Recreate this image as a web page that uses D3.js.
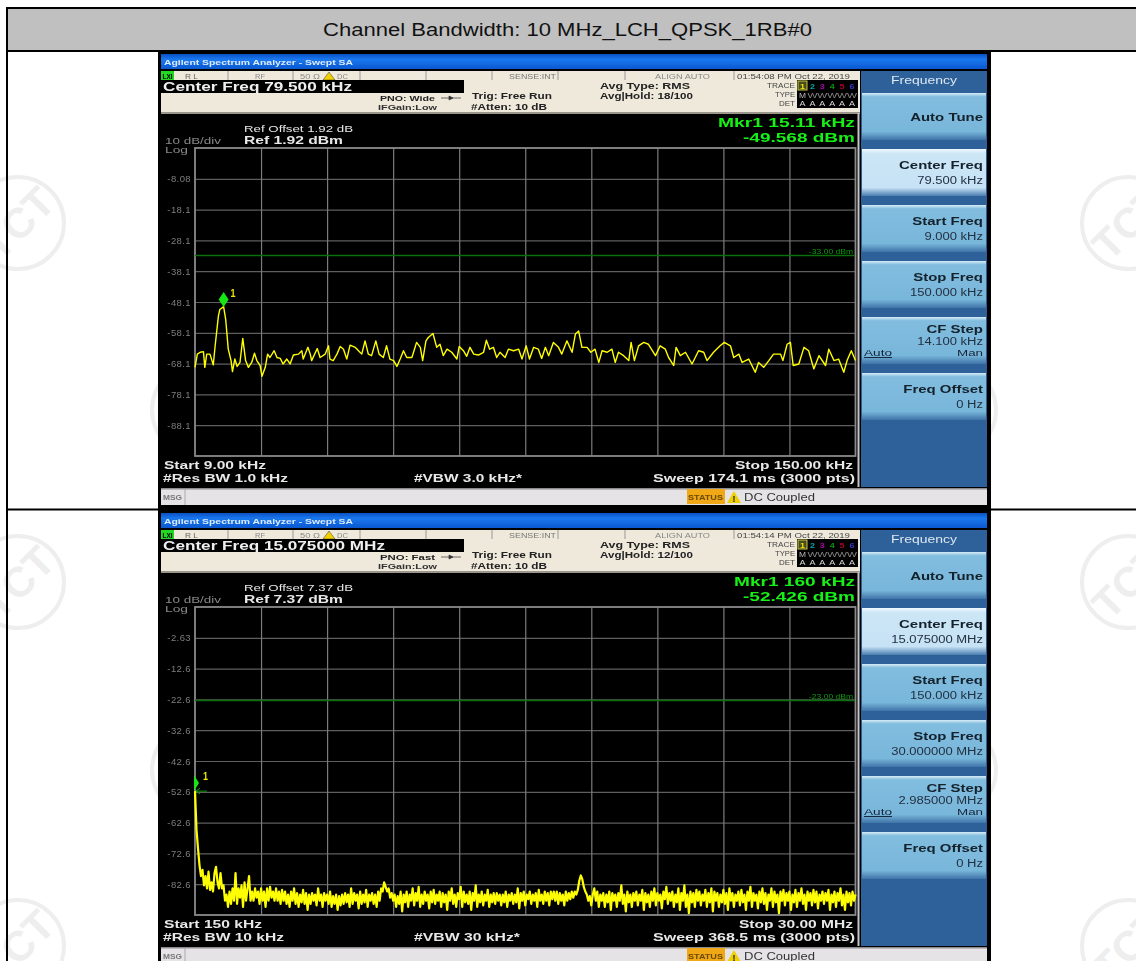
<!DOCTYPE html>
<html>
<head>
<meta charset="utf-8">
<style>
html, body { margin: 0; padding: 0; background: #fff; overflow: hidden; }
text { font-family: "Liberation Sans", Arial, sans-serif; }
</style>
<script src="https://cdn.jsdelivr.net/npm/d3@7"></script>
</head>
<body>
<div id="chart"></div>
<script>
const title = "Channel Bandwidth: 10 MHz_LCH_QPSK_1RB#0";

// first sweep (kHz / dBm)
const trace1Freq = [9.0,9.5,10.1,10.8,11.1,11.5,12.2,12.9,13.3,14.0,14.3,15.11,15.55,16.1,16.7,17.0,17.5,18.0,18.6,19.2,19.8,20.4,21.1,21.7,22.2,22.9,23.3,24.0,24.5,25.0,25.9,26.5,27.2,27.8,28.6,29.3,30.0,31.1,31.8,32.1,33.1,33.6,33.9,35.1,35.7,36.8,37.5,37.8,38.5,39.3,40.0,40.7,41.4,42.1,43.2,43.9,44.6,45.3,46.0,46.7,47.6,48.3,49.2,49.9,50.6,51.4,52.1,52.8,53.5,54.2,55.3,56.3,57.1,57.6,58.3,58.8,59.8,60.6,61.3,62.0,62.8,63.8,64.9,65.4,66.3,67.0,67.7,68.5,69.5,70.6,71.2,71.9,72.7,73.4,74.1,75.2,75.9,77.0,78.1,78.8,79.7,80.4,81.3,82.3,83.0,83.8,84.5,85.5,86.6,87.3,88.4,89.5,90.2,90.9,91.6,92.7,93.5,94.4,95.2,95.9,97.0,98.0,98.7,99.4,100.5,101.6,102.1,102.8,103.7,104.8,105.8,107.3,108.3,109.4,110.1,111.2,111.7,112.6,113.7,115.1,116.5,117.6,118.3,119.7,121.1,122.0,123.3,124.0,125.1,125.8,127.2,128.6,129.3,130.4,131.5,132.5,134.0,134.5,135.4,136.1,136.7,137.9,139.0,140.0,141.1,142.2,143.6,144.3,145.4,146.4,147.5,148.2,149.1,150.0];
const trace1Db = [-69.3,-65.0,-64.4,-64.2,-69.3,-65.0,-65.0,-68.5,-62.3,-52.6,-50.5,-49.568,-53.7,-63.4,-67.1,-70.7,-66.6,-69.0,-67.7,-59.9,-67.1,-69.3,-67.7,-64.7,-67.1,-68.7,-72.2,-69.3,-65.0,-66.1,-63.9,-66.1,-66.4,-68.2,-66.6,-68.2,-65.3,-65.0,-63.9,-66.6,-62.8,-65.0,-67.1,-63.2,-66.1,-65.0,-62.3,-66.6,-67.1,-65.0,-62.5,-63.4,-66.6,-62.1,-62.8,-63.9,-65.0,-60.7,-65.0,-65.5,-60.7,-65.0,-66.1,-62.3,-66.6,-67.1,-69.0,-66.6,-63.9,-66.1,-66.1,-61.2,-62.8,-67.1,-60.7,-59.6,-58.3,-62.8,-61.8,-65.5,-63.4,-64.4,-66.6,-62.5,-63.9,-65.7,-62.8,-65.0,-65.3,-64.4,-60.5,-63.4,-62.8,-66.1,-64.4,-66.1,-63.4,-63.9,-63.4,-66.6,-62.3,-66.6,-62.8,-63.4,-66.4,-62.8,-65.5,-61.2,-62.8,-65.0,-60.7,-64.4,-58.5,-57.5,-62.8,-62.8,-64.4,-63.4,-67.7,-63.9,-64.4,-63.4,-67.7,-64.4,-65.5,-67.1,-61.2,-67.1,-62.3,-61.2,-61.8,-65.5,-62.3,-63.4,-66.1,-68.7,-62.8,-65.5,-64.4,-68.2,-63.9,-64.4,-67.1,-64.4,-62.3,-61.2,-62.3,-66.1,-65.0,-67.7,-66.6,-70.9,-67.7,-69.3,-67.1,-65.0,-65.0,-67.1,-61.8,-61.2,-68.7,-68.2,-62.8,-63.9,-69.8,-65.5,-68.7,-63.4,-67.1,-66.6,-70.9,-67.1,-63.9,-67.1];

// second sweep, evenly spaced points across the span (dBm)
const trace2Db = [
-52.4,-65,-71,-76.5,-80,-78,-83,-80,-84,-78.5,-84.5,-82,-85,-79,-77,-82,-84,-79,-84,-83,
-88,-86,-90,-85,-89,-84,-88,-79,-89,-84,-87,-83,-90,-82,-88,-84,-80,-88,-85,-88,
-84,-87,-85,-89,-84,-88,-85,-90,-84,-88,-83.5,-87,-85,-88,-84,-88,-85,-89,-84.5,-88,
-85,-89,-86,-90,-85,-88,-84,-89,-85.5,-90,-86,-88.5,-84.5,-89,-85.5,-91,-86,-89,-85.5,-88,
-86,-89.5,-84,-88,-86,-90,-85.5,-88,-86,-89,-85,-90,-86.5,-89,-86,-91,-86.5,-89.5,-86,-89,
-85.5,-88.5,-86,-90,-84,-89,-85.5,-88,-86,-90.5,-85,-89,-86,-88.5,-84.5,-90,-86,-88,-85.5,-89,
-86,-90,-85,-88,-84,-85,-82,-83.5,-85,-84,-87,-85.5,-88,-86,-90,-86.5,-89,-85,-91.5,-86,
-88.5,-85,-90,-86,-88,-84,-89.5,-85.5,-88,-83.5,-90,-86,-89,-85,-88,-86,-90.5,-85,-88.5,-84.5,
-89,-86,-88,-85,-90,-85.5,-88.5,-86,-91,-85,-88,-84,-89,-86,-90,-85.5,-87.5,-83.5,-90,-85,
-88.5,-86,-89,-85,-91,-85.5,-88,-83,-90,-86,-88.5,-85,-89.5,-86,-88,-84.5,-90,-86,-88.5,-85.5,
-89,-85.5,-88,-86,-89.5,-86,-88.5,-85,-90,-86,-88,-85.5,-89,-86,-88.5,-84,-90.5,-85.5,-88,-85,
-89.5,-86,-87.5,-85,-89,-86,-88,-85.5,-90,-84.5,-88,-86,-89,-85,-88,-85.5,-89.5,-85,-87.5,-85,
-88,-85,-89,-85.5,-88,-86,-89.5,-85,-88,-85.5,-87.5,-85,-87,-85,-86,-84.5,-81.5,-79.8,-81,-83.5,
-85,-86,-88,-86.5,-89.5,-86,-84,-88,-85,-90,-86,-88,-85.5,-90,-86,-88.5,-85,-91,-85.5,-88,
-86,-90,-85.5,-88,-83,-89,-86,-91.5,-85,-88.5,-86,-90,-85.5,-88,-85,-89.5,-86,-88,-84.5,-91,
-85.5,-88.5,-86,-90,-85,-88,-84,-89.5,-85.5,-88,-86,-90.5,-85,-87.5,-83.5,-89,-85.5,-88,-85,-90,
-86,-88.5,-84,-91,-85.5,-88,-83,-90,-86,-92,-85,-88.5,-85.5,-90,-84.5,-88,-85,-89.5,-86,-88,
-84.5,-90,-85.5,-88.5,-84,-91.5,-85,-88,-85.5,-90,-86,-88.5,-84.5,-89,-85.5,-91,-84,-88,-85.5,-90,
-86,-88,-85,-89.5,-84.5,-88.5,-86,-91,-85,-88,-83.5,-90,-85.5,-88,-86,-90.5,-85,-88.5,-84,-89,
-85.5,-91,-86,-88,-84,-90,-85,-88.5,-86,-92,-85,-88,-84.5,-89.5,-85.5,-88,-85,-91,-86,-88.5,
-84.5,-90,-85.5,-88,-84,-89,-86,-91,-85,-88,-85.5,-89.5,-84.5,-88.5,-85,-90.5,-86,-88,-85,-89,
-85.5,-88,-84.5,-91,-86,-88.5,-85,-90,-85.5,-88,-84,-89.5,-86,-91,-85,-88.5,-85.5,-89.5,-85,-88,
-86
];

const yTicks1 = [-8.08,-18.08,-28.08,-38.08,-48.08,-58.08,-68.08,-78.08,-88.08];
const yLabels1 = ["-8.08","-18.1","-28.1","-38.1","-48.1","-58.1","-68.1","-78.1","-88.1"];
const yTicks2 = [-2.63,-12.63,-22.63,-32.63,-42.63,-52.63,-62.63,-72.63,-82.63];
const yLabels2 = ["-2.63","-12.6","-22.6","-32.6","-42.6","-52.6","-62.6","-72.6","-82.6"];
const traceTabs = ["1","2","3","4","5","6"];
const traceTabColors = ["#e8e800","#00a8a8","#a800a8","#109010","#a80030","#3838c8"];
const watermarks = [[18,223],[1128,223],[18,582],[1128,582],[18,946],[1128,946],[198,410],[950,410],[198,770],[950,770]];

const w = 1136, h = 961;
const svg = d3.select("#chart").append("svg").attr("width", w).attr("height", h)
    .style("display", "block");

const defs = svg.append("defs");
defs.append("filter").attr("id", "soft").attr("x", "-2%").attr("y", "-2%").attr("width", "104%").attr("height", "104%")
    .append("feGaussianBlur").attr("stdDeviation", 0.42);

function grad(id, stops) {
    const g = defs.append("linearGradient").attr("id", id).attr("x1", 0).attr("x2", 0).attr("y1", 0).attr("y2", 1);
    stops.forEach(s => g.append("stop").attr("offset", s[0]).attr("stop-color", s[1]));
}
grad("barBlue", [[0, "#0a4fc4"], [0.35, "#1a78ee"], [1, "#0b58d0"]]);
grad("keyBlue", [[0, "#d6ebf6"], [0.08, "#82bddf"], [0.82, "#78b6da"], [1, "#3f74a8"]]);
grad("keyLight", [[0, "#f0f8fd"], [0.1, "#cce6f6"], [0.82, "#c6e2f4"], [1, "#4a7db0"]]);

// stretched text, the analyzer font is much wider than Liberation
function txt(g, str, x, y, size, o) {
    o = o || {};
    const t = g.append("text").attr("x", x).attr("y", y)
        .attr("font-size", size)
        .attr("font-weight", o.bold ? "bold" : "normal")
        .attr("fill", o.fill || "#e8e8e8")
        .attr("text-anchor", o.anchor || "start")
        .text(str);
    const wid = o.w || t.node().getComputedTextLength() * (o.stretch || 1.2);
    t.attr("textLength", wid).attr("lengthAdjust", "spacingAndGlyphs");
    return t;
}

function drawWatermark(c) {
    const g = svg.append("g").attr("transform", `translate(${c[0]},${c[1]})`);
    g.append("circle").attr("r", 46).attr("fill", "none").attr("stroke", "#eeeeee").attr("stroke-width", 4);
    g.append("text").attr("transform", "rotate(-45)").attr("text-anchor", "middle").attr("y", 15)
        .attr("font-size", 42).attr("font-weight", "bold").attr("fill", "#eeeeee")
        .attr("stroke", "#fff").attr("stroke-width", 2).attr("paint-order", "stroke")
        .text("TCT");
}

function drawFrame() {
    svg.append("rect").attr("x", 7).attr("y", 8).attr("width", w).attr("height", 43)
        .attr("fill", "#c0c0c0").attr("stroke", "#000").attr("stroke-width", 2);
    svg.append("line").attr("x1", 7).attr("x2", 7).attr("y1", 7).attr("y2", h).attr("stroke", "#000").attr("stroke-width", 2);
    svg.append("line").attr("x1", 7).attr("x2", w).attr("y1", 509.5).attr("y2", 509.5).attr("stroke", "#000").attr("stroke-width", 2);
    svg.append("text").attr("x", 323).attr("y", 36).attr("font-size", 18.7).attr("fill", "#111")
        .attr("textLength", 489).attr("lengthAdjust", "spacingAndGlyphs").text(title);
}

function drawAnalyzer(c) {
    const g = svg.append("g").attr("transform", `translate(0,${c.top})`);
    // black surround stays sharp, the rest of the screen shot is blurred a little
    g.append("rect").attr("x", 158).attr("y", 0).attr("width", 833).attr("height", 458).attr("fill", "#000");
    const s = g.append("g").attr("filter", "url(#soft)");

    s.append("rect").attr("x", 161).attr("y", 3).attr("width", 826).attr("height", 15).attr("fill", "url(#barBlue)");
    txt(s, "Agilent Spectrum Analyzer - Swept SA", 164, 13.5, 8, { bold: true, fill: "#dcecff", w: 189 });

    // status row
    s.append("rect").attr("x", 161).attr("y", 20).attr("width", 699).attr("height", 42).attr("fill", "#efe9dc");
    s.append("rect").attr("x", 161).attr("y", 61).attr("width", 699).attr("height", 2).attr("fill", "#9a968c");
    s.append("rect").attr("x", 161).attr("y", 20).attr("width", 13).attr("height", 9).attr("fill", "#20d820");
    txt(s, "LXI", 162.5, 27.5, 7.5, { bold: true, fill: "#000", w: 10 });
    txt(s, "R L", 185, 27.5, 7, { fill: "#666", w: 13 });
    txt(s, "RF", 255, 27.5, 7, { fill: "#888", w: 10 });
    txt(s, "50 Ω", 300, 27.5, 7, { fill: "#888", w: 20 });
    s.append("path").attr("d", "M329,21 L335,29 L323,29 Z").attr("fill", "#f0d000").attr("stroke", "#333").attr("stroke-width", 0.5);
    txt(s, "DC", 337, 27.5, 7, { fill: "#888", w: 11 });
    txt(s, "SENSE:INT", 509, 27.5, 7, { fill: "#777", w: 47 });
    txt(s, "ALIGN AUTO", 655, 27.5, 7, { fill: "#888", w: 55 });
    txt(s, c.time, 737, 27.5, 7.5, { fill: "#444", w: 113 });
    [228, 293, 360, 426, 492, 558, 625, 734].forEach(x => {
        s.append("line").attr("x1", x).attr("x2", x).attr("y1", 20).attr("y2", 29).attr("stroke", "#999");
    });

    s.append("rect").attr("x", 161).attr("y", 29).attr("width", 303).attr("height", 13).attr("fill", "#000");
    txt(s, c.center, 163, 40, 12, { bold: true, fill: "#eee", w: c.centerW });
    txt(s, c.pno, 380, 50, 8, { bold: true, fill: "#222", w: 55 });
    txt(s, "IFGain:Low", 378, 59, 8, { bold: true, fill: "#333", w: 59 });
    s.append("path").attr("d", "M441,47 H461 M449,45 L453,47 L449,49 Z").attr("stroke", "#333").attr("fill", "#333").attr("stroke-width", 0.7);
    txt(s, "Trig: Free Run", 472, 48, 8.5, { bold: true, fill: "#222", w: 80 });
    txt(s, "#Atten: 10 dB", 471, 59, 8.5, { bold: true, fill: "#222", w: 76 });
    txt(s, "Avg Type: RMS", 600, 37.5, 8.5, { bold: true, fill: "#222", w: 90 });
    txt(s, c.hold, 600, 47.5, 8.5, { bold: true, fill: "#222", w: 93 });

    // trace table
    s.append("rect").attr("x", 797).attr("y", 29).attr("width", 61).attr("height", 28).attr("fill", "#000");
    txt(s, "TRACE", 767, 37, 7, { fill: "#444", w: 28 });
    txt(s, "TYPE", 775, 46, 7, { fill: "#444", w: 20 });
    txt(s, "DET", 779, 55, 7, { fill: "#444", w: 16 });
    s.append("rect").attr("x", 798).attr("y", 30).attr("width", 9).attr("height", 9).attr("fill", "#4a4a20").attr("stroke", "#c8c840");
    traceTabs.forEach((d, i) => {
        const x = 802.5 + i * 9.9;
        txt(s, d, x, 37.5, 8, { bold: true, fill: traceTabColors[i], anchor: "middle", w: 5 });
        txt(s, "A", x, 55, 8, { fill: "#ddd", anchor: "middle", w: 6 });
        txt(s, i === 0 ? "M" : "W", x, 46.5, 8, { fill: i === 0 ? "#bbb" : "#888", anchor: "middle", w: i === 0 ? 7 : 10 });
    });

    // readouts over the plot
    txt(s, c.refOffset, 244, 81, 9.5, { w: 109 });
    txt(s, c.ref, 244, 93, 11, { bold: true, w: 99 });
    txt(s, "10 dB/div", 165, 92.5, 8.5, { fill: "#888", w: 56 });
    txt(s, "Log", 165, 102, 8.5, { fill: "#888", w: 23 });
    txt(s, c.mkr, 855, 76, 13.5, { bold: true, fill: "#16f016", anchor: "end", w: c.mkrW });
    txt(s, c.mkrVal, 855, 91, 13.5, { bold: true, fill: "#16f016", anchor: "end", w: 112 });

    // plot
    const x = d3.scaleLinear().domain([c.start, c.stop]).range([195, 855.5]);
    const y = d3.scaleLinear().domain([c.refDb, c.refDb - 100]).range([97, 405]);
    const xGrid = d3.range(1, 10).map(i => c.start + i * (c.stop - c.start) / 10);

    const ya = s.append("g").attr("transform", "translate(195,0)")
        .call(d3.axisLeft(y).tickValues(c.yTicks).tickSize(-660).tickPadding(4)
            .tickFormat((d, i) => c.yLabels[i]));
    ya.select(".domain").remove();
    ya.selectAll("line").attr("stroke", "#5e5e5e").attr("stroke-width", 1.2);
    ya.selectAll("text").attr("fill", "#7e7e7e").attr("font-size", 9.5).attr("letter-spacing", 0.4)
        .attr("font-family", "'Liberation Sans', Arial, sans-serif");

    const xa = s.append("g").attr("transform", "translate(0,405)")
        .call(d3.axisBottom(x).tickValues(xGrid).tickSize(-308).tickFormat(""));
    xa.select(".domain").remove();
    xa.selectAll("line").attr("stroke", "#7c7c7c").attr("stroke-width", 1.2);

    s.append("rect").attr("x", 195).attr("y", 97).attr("width", 660.5).attr("height", 308)
        .attr("fill", "none").attr("stroke", "#8a8a8a").attr("stroke-width", 1.8);

    s.append("line").attr("x1", 195).attr("x2", 855).attr("y1", y(c.limit)).attr("y2", y(c.limit))
        .attr("stroke", "#0b6e0b").attr("stroke-width", 1.5);
    txt(s, c.limitLabel, 853, y(c.limit) - 2, 6.5, { fill: "#0c9a0c", anchor: "end", w: 44 });

    const line = d3.line().x(d => x(d[0])).y(d => y(d[1]));
    s.append("path").datum(c.trace).attr("d", line).attr("fill", "none")
        .attr("stroke", "#ffff00").attr("stroke-width", c.traceWidth).attr("stroke-linejoin", "round");

    // marker
    const mx = x(c.trace[c.mkrIndex][0]), my = y(c.trace[c.mkrIndex][1]);
    if (c.halfMarker) {
        s.append("path").attr("transform", `translate(${mx - 1},${my})`).attr("d", "M0,0 V-16 L5,-8 Z").attr("fill", "#14e614");
        s.append("path").attr("transform", `translate(${mx},${my})`).attr("d", "M12,0 H1 M5,-3 L1,0 L5,3")
            .attr("fill", "none").attr("stroke", "#0c9a0c").attr("stroke-width", 1);
    } else {
        s.append("path").attr("transform", `translate(${mx},${my - 7})`).attr("d", "M0,-7.5 L5,0 L0,7.5 L-5,0 Z").attr("fill", "#14e614");
    }
    txt(s, "1", mx + (c.halfMarker ? 8 : 7), my + (c.halfMarker ? -11 : -10), 10, { bold: true, fill: "#e8e800", w: 5 });

    // bottom readouts
    txt(s, c.startLabel, 164, 418, 11, { bold: true, w: c.startW });
    txt(s, c.rbw, 163, 431, 11, { bold: true, w: c.rbwW });
    txt(s, c.vbw, 414, 431, 11, { bold: true, w: c.vbwW });
    txt(s, c.stopLabel, 853, 418, 11, { bold: true, anchor: "end", w: c.stopW });
    txt(s, c.sweep, 855, 431, 11, { bold: true, anchor: "end", w: 202 });

    // message bar
    s.append("rect").attr("x", 161).attr("y", 437).attr("width", 826).attr("height", 17).attr("fill", "#e6e3e6");
    s.append("rect").attr("x", 161).attr("y", 437).attr("width", 826).attr("height", 1.5).attr("fill", "#8c8c8c");
    s.append("line").attr("x1", 185).attr("x2", 185).attr("y1", 438).attr("y2", 454).attr("stroke", "#aaa");
    txt(s, "MSG", 163, 449, 7.5, { bold: true, fill: "#777", w: 19 });
    s.append("rect").attr("x", 687).attr("y", 438).attr("width", 38).attr("height", 15).attr("fill", "#f0a818");
    txt(s, "STATUS", 688, 449, 7.5, { bold: true, fill: "#6a4a00", w: 35 });
    s.append("path").attr("d", "M734,440 L741,452 L727,452 Z").attr("fill", "#f0d000");
    txt(s, "!", 732.5, 451, 9, { bold: true, fill: "#222", w: 3 });
    txt(s, "DC Coupled", 744, 450, 10, { fill: "#333", w: 71 });

    // softkeys
    s.append("rect").attr("x", 861).attr("y", 20).attr("width", 126).attr("height", 416).attr("fill", "#2f6199");
    s.append("rect").attr("x", 857.5).attr("y", 62).attr("width", 2).attr("height", 374).attr("fill", "#c4c4c4");
    txt(s, "Frequency", 924, 33, 10.5, { fill: "#dfe9f2", anchor: "middle", w: 66 });
    const keys = s.selectAll("g.key").data(c.keys).enter().append("g").attr("class", "key")
        .attr("transform", (d, i) => `translate(862,${42 + i * 56})`);
    keys.append("rect").attr("width", 124).attr("height", 47)
        .attr("fill", d => d.active ? "url(#keyLight)" : "url(#keyBlue)");
    keys.each(function (d) {
        const k = d3.select(this);
        txt(k, d.name, 121, d.nameY, 11.5, { bold: true, fill: "#12202c", anchor: "end", stretch: 1.3 });
        if (d.val) txt(k, d.val, 121, d.valY, 10, { fill: "#223040", anchor: "end", stretch: 1.3 });
        if (d.auto) {
            txt(k, "Auto", 2, 39, 9.5, { fill: "#16233a", w: 28 }).attr("text-decoration", "underline");
            txt(k, "Man", 121, 39, 9.5, { fill: "#16233a", anchor: "end", w: 26 });
        }
    });
}

function softkeys(center, start, stop, step) {
    return [
        { name: "Auto Tune", nameY: 28 },
        { name: "Center Freq", nameY: 20, val: center, valY: 35, active: true },
        { name: "Start Freq", nameY: 20, val: start, valY: 35 },
        { name: "Stop Freq", nameY: 20, val: stop, valY: 35 },
        { name: "CF Step", nameY: 16, val: step, valY: 28, auto: true },
        { name: "Freq Offset", nameY: 20, val: "0 Hz", valY: 35 }
    ];
}

watermarks.forEach(drawWatermark);
drawFrame();

drawAnalyzer({
    top: 51, time: "01:54:08 PM Oct 22, 2019", center: "Center Freq 79.500 kHz", centerW: 189,
    pno: "PNO: Wide", hold: "Avg|Hold: 18/100", refOffset: "Ref Offset 1.92 dB", ref: "Ref 1.92 dBm",
    mkr: "Mkr1 15.11 kHz", mkrW: 137, mkrVal: "-49.568 dBm",
    start: 9, stop: 150, refDb: 1.92, yTicks: yTicks1, yLabels: yLabels1,
    limit: -33, limitLabel: "-33.00 dBm",
    trace: trace1Freq.map((f, i) => [f, trace1Db[i]]), traceWidth: 1.4, mkrIndex: 11, halfMarker: false,
    startLabel: "Start 9.00 kHz", startW: 102, rbw: "#Res BW 1.0 kHz", rbwW: 125, vbw: "#VBW 3.0 kHz*", vbwW: 108,
    stopLabel: "Stop 150.00 kHz", stopW: 118, sweep: "Sweep  174.1 ms (3000 pts)",
    keys: softkeys("79.500 kHz", "9.000 kHz", "150.000 kHz", "14.100 kHz")
});

drawAnalyzer({
    top: 510, time: "01:54:14 PM Oct 22, 2019", center: "Center Freq 15.075000 MHz", centerW: 222,
    pno: "PNO: Fast", hold: "Avg|Hold: 12/100", refOffset: "Ref Offset 7.37 dB", ref: "Ref 7.37 dBm",
    mkr: "Mkr1 160 kHz", mkrW: 121, mkrVal: "-52.426 dBm",
    start: 0.15, stop: 30, refDb: 7.37, yTicks: yTicks2, yLabels: yLabels2,
    limit: -23, limitLabel: "-23.00 dBm",
    trace: trace2Db.map((v, i) => [0.15 + i * (30 - 0.15) / (trace2Db.length - 1), v]), traceWidth: 2.2, mkrIndex: 0, halfMarker: true,
    startLabel: "Start 150 kHz", startW: 98, rbw: "#Res BW 10 kHz", rbwW: 121, vbw: "#VBW 30 kHz*", vbwW: 106,
    stopLabel: "Stop 30.00 MHz", stopW: 114, sweep: "Sweep  368.5 ms (3000 pts)",
    keys: softkeys("15.075000 MHz", "150.000 kHz", "30.000000 MHz", "2.985000 MHz")
});
</script>
</body>
</html>
